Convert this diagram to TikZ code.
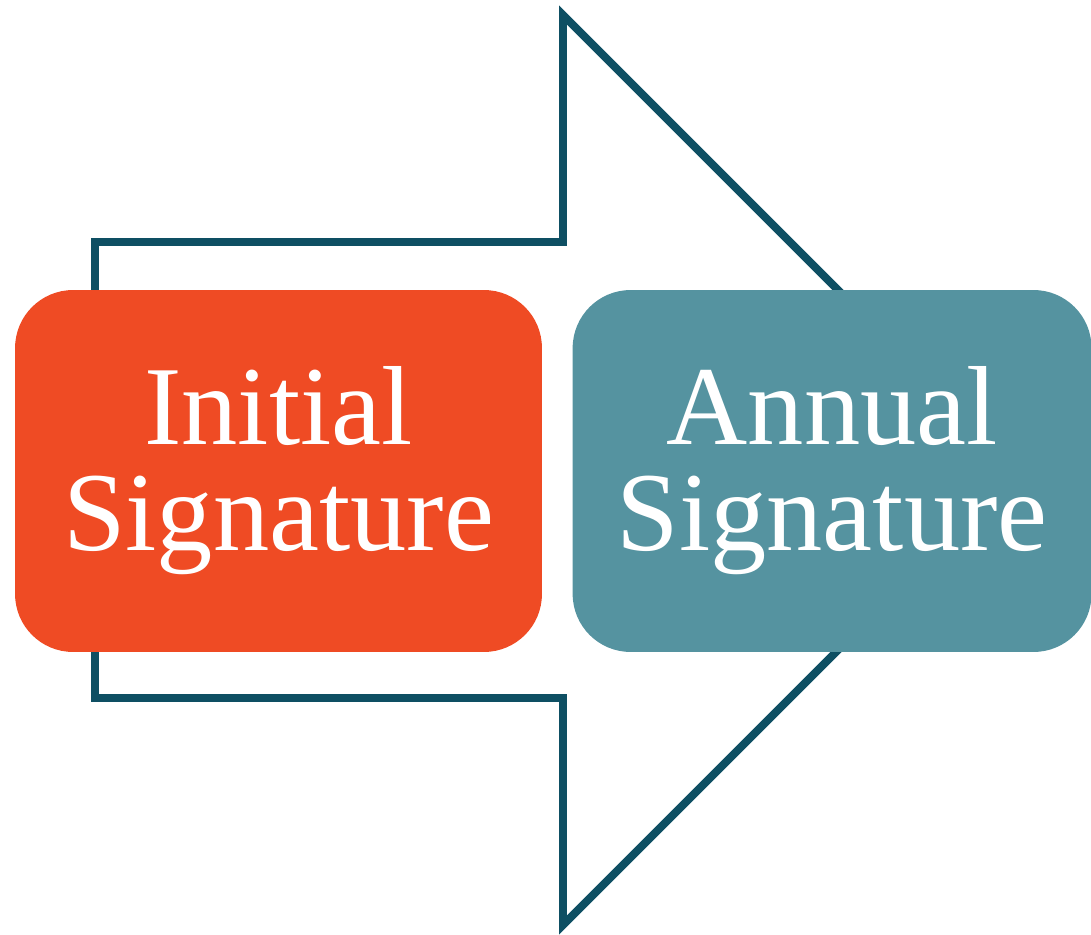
\documentclass[tikz,border=0pt]{standalone}
\usepackage{fontspec}
\setmainfont{Liberation Serif}
\usepackage{tikz}
\usetikzlibrary{positioning}
\definecolor{arrowblue}{HTML}{0E4F63}
\definecolor{initorange}{HTML}{EF4B24}
\definecolor{annualteal}{HTML}{5593A0}

\begin{document}
\begin{tikzpicture}[x=0.02cm,y=0.02cm,
        sigbox/.style={rounded corners=1.16cm, minimum height=7.24cm, inner sep=0pt,
            text=white, align=center, font=\fontsize{64}{60.3}\selectfont}]
            \useasboundingbox (0,0) rectangle (1091,934);
            % outline arrow behind the two boxes
            \draw[line width=4.5pt, color=arrowblue] (95,236) -- (95,692) -- (563,692) -- (563,919)
                -- (1018,464) -- (563,9) -- (563,236) -- cycle;
            \node[sigbox, fill=initorange, minimum width=10.54cm] (init) at (278.5,463) {Initial\\Signature};
            \node[sigbox, fill=annualteal, minimum width=10.38cm, right=0.6cm of init] (annual) {Annual\\Signature};
        \end{tikzpicture}
\end{document}
